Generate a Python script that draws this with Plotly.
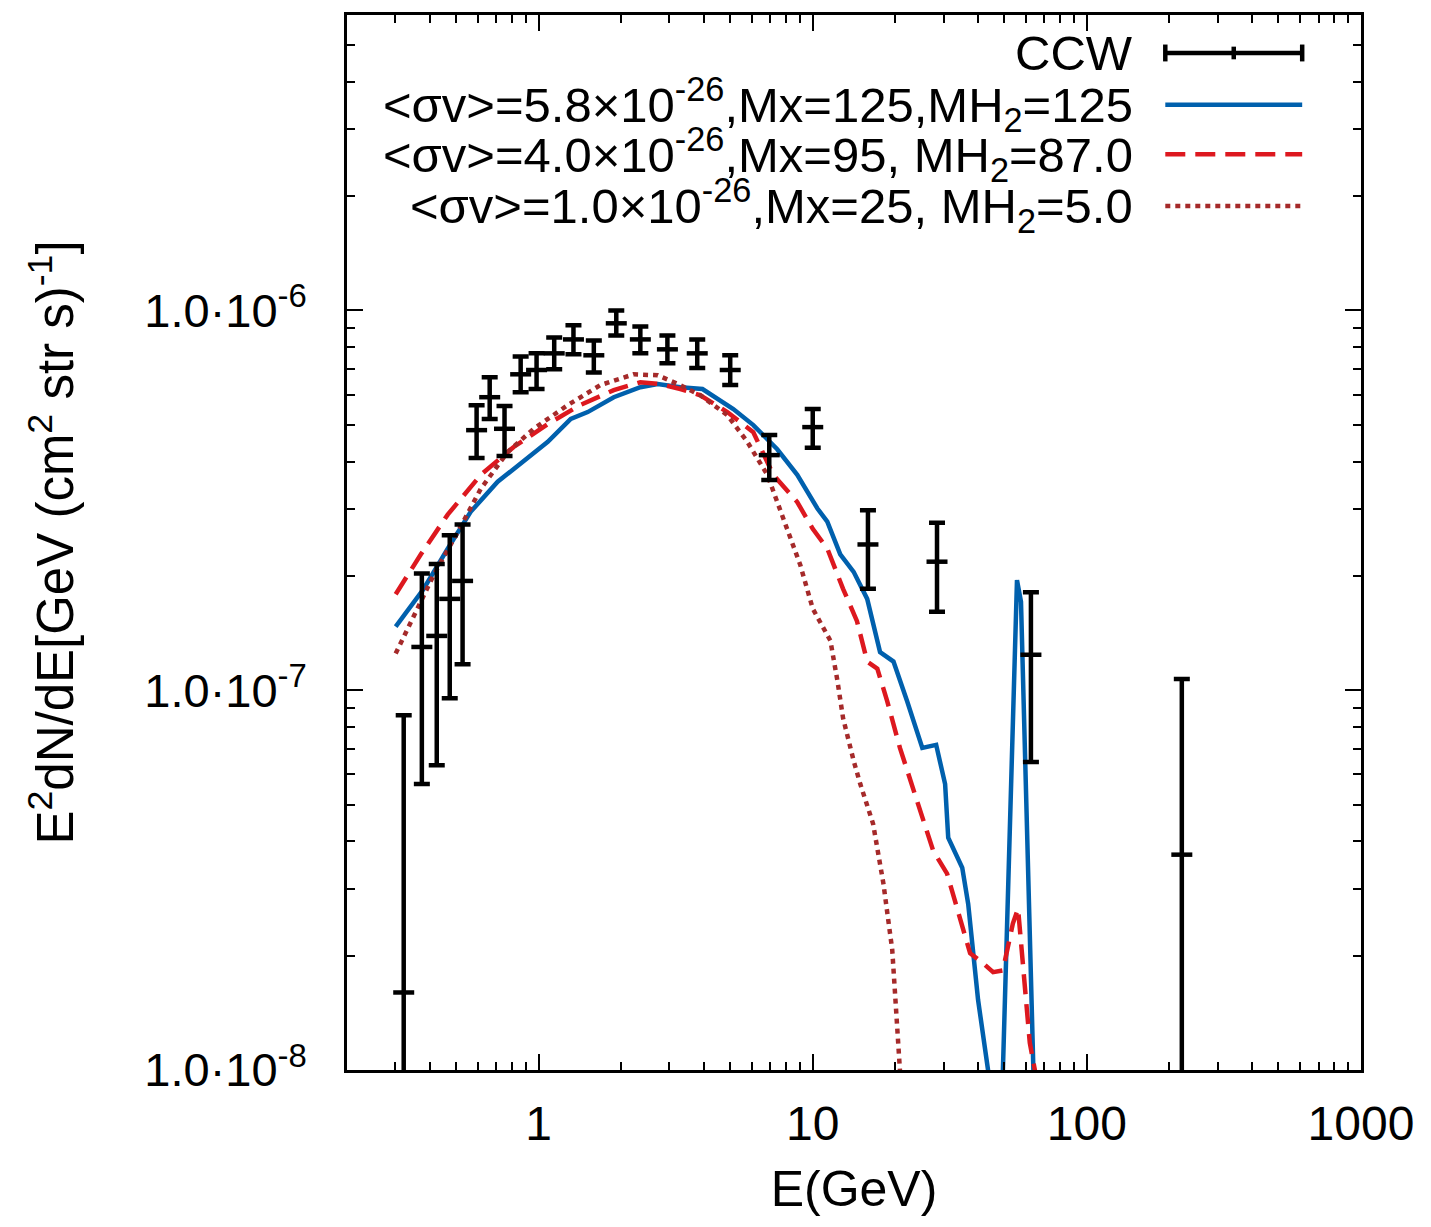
import plotly.graph_objects as go

# CCW data points (E in GeV, E^2 dN/dE) with error ranges
ccw_e = [0.322, 0.375, 0.425, 0.474, 0.528, 0.594, 0.663, 0.751, 0.860, 0.983,
         1.14, 1.34, 1.59, 1.92, 2.35, 2.95, 3.79, 5.0, 6.94, 10.0,
         15.9, 28.4, 62.5, 222.0]
ccw_y = [1.60e-8, 1.30e-7, 1.39e-7, 1.74e-7, 1.94e-7, 4.84e-7, 5.91e-7, 4.88e-7, 6.79e-7, 6.97e-7,
         7.71e-7, 8.39e-7, 7.62e-7, 9.25e-7, 8.39e-7, 7.90e-7, 7.71e-7, 6.97e-7, 4.16e-7, 4.93e-7,
         2.42e-7, 2.18e-7, 1.24e-7, 3.69e-8]
ccw_hi = [8.59e-8, 2.03e-7, 2.15e-7, 2.56e-7, 2.73e-7, 5.63e-7, 6.67e-7, 5.60e-7, 7.57e-7, 7.71e-7,
          8.49e-7, 9.14e-7, 8.34e-7, 1.00e-6, 9.08e-7, 8.59e-7, 8.39e-7, 7.62e-7, 4.70e-7, 5.50e-7,
          2.98e-7, 2.76e-7, 1.81e-7, 1.07e-7]
ccw_lo = [1e-10, 5.66e-8, 6.35e-8, 9.53e-8, 1.17e-7, 4.09e-7, 5.18e-7, 4.14e-7, 6.09e-7, 6.21e-7,
          7.00e-7, 7.67e-7, 6.87e-7, 8.59e-7, 7.71e-7, 7.26e-7, 7.05e-7, 6.36e-7, 3.58e-7, 4.35e-7,
          1.85e-7, 1.61e-7, 6.47e-8, 1e-10]

# Mx=125, MH2=125 (blue solid)
m125_e = [0.301, 0.381, 0.466, 0.565, 0.709, 0.860, 1.08, 1.31, 1.51, 1.88,
          2.35, 2.72, 3.29, 3.96, 4.49, 5.13, 6.07, 7.42, 8.78, 10.4,
          11.3, 12.6, 14.1, 15.8, 17.6, 19.7, 22.1, 25.1, 28.2, 30.4,
          31.2, 35.1, 36.9, 40.1, 43.6, 46.5, 49.4, 55.6, 57.5, 63.6, 66.0]
m125_y = [1.47e-7, 1.85e-7, 2.36e-7, 2.95e-7, 3.54e-7, 3.95e-7, 4.51e-7, 5.18e-7, 5.40e-7, 5.91e-7,
          6.28e-7, 6.40e-7, 6.28e-7, 6.21e-7, 5.84e-7, 5.50e-7, 4.99e-7, 4.31e-7, 3.69e-7, 3.01e-7,
          2.78e-7, 2.28e-7, 2.05e-7, 1.74e-7, 1.26e-7, 1.19e-7, 9.35e-8, 7.05e-8, 7.18e-8, 5.66e-8,
          4.09e-8, 3.41e-8, 2.74e-8, 1.53e-8, 1.0e-8, 1e-9, 1.0e-8, 1.95e-7, 1.71e-7, 1.0e-8, 4e-9]

# Mx=95, MH2=87 (red dashed)
m95_e = [0.301, 0.372, 0.466, 0.615, 0.811, 1.08, 1.42, 1.88, 2.35, 2.78,
         3.29, 3.89, 4.88, 6.07, 7.18, 8.78, 10.0, 11.3, 12.9, 14.5,
         15.8, 17.2, 18.7, 20.8, 24.0, 27.5, 30.9, 34.5, 37.5, 41.8,
         45.5, 49.4, 53.7, 56.1, 58.5, 61.9, 64.6, 66.0]
m95_y = [1.79e-7, 2.28e-7, 2.90e-7, 3.69e-7, 4.37e-7, 5.02e-7, 5.64e-7, 6.17e-7, 6.47e-7, 6.40e-7,
         6.21e-7, 5.98e-7, 5.40e-7, 4.78e-7, 3.69e-7, 3.13e-7, 2.66e-7, 2.36e-7, 1.85e-7, 1.52e-7,
         1.19e-7, 1.14e-7, 9.35e-8, 7.05e-8, 5.12e-8, 3.78e-8, 3.29e-8, 2.52e-8, 2.03e-8, 1.91e-8,
         1.81e-8, 1.83e-8, 2.43e-8, 2.66e-8, 1.86e-8, 1.18e-8, 1.0e-8, 5e-9]

# Mx=25, MH2=5 (brown dotted)
m25_e = [0.301, 0.351, 0.414, 0.507, 0.615, 0.771, 0.959, 1.28, 1.68, 2.22,
         2.72, 3.29, 3.89, 4.88, 5.77, 6.83, 8.07, 9.0, 10.0, 11.6,
         12.3, 12.9, 14.1, 14.9, 16.6, 18.1, 19.5, 20.3, 20.8, 21.5]
m25_y = [1.25e-7, 1.58e-7, 2.01e-7, 2.61e-7, 3.39e-7, 4.24e-7, 4.88e-7, 5.64e-7, 6.36e-7, 6.79e-7,
         6.75e-7, 6.36e-7, 5.98e-7, 5.30e-7, 4.51e-7, 3.69e-7, 2.66e-7, 2.14e-7, 1.64e-7, 1.35e-7,
         1.06e-7, 8.45e-8, 6.52e-8, 5.67e-8, 4.45e-8, 3.10e-8, 2.07e-8, 1.38e-8, 1.0e-8, 5e-9]

legend_labels = [
    "CCW",
    "&lt;σv&gt;=5.8×10<sup>-26</sup>,Mx=125,MH<sub>2</sub>=125",
    "&lt;σv&gt;=4.0×10<sup>-26</sup>,Mx=95, MH<sub>2</sub>=87.0",
    "&lt;σv&gt;=1.0×10<sup>-26</sup>,Mx=25, MH<sub>2</sub>=5.0",
]

x_major = [1, 10, 100, 1000]
x_minor = [m * 10 ** p for p in range(-1, 3) for m in range(2, 10)]
y_major = [1e-8, 1e-7, 1e-6]
y_ticktext = ["1.0·10<sup>-8</sup>", "1.0·10<sup>-7</sup>", "1.0·10<sup>-6</sup>"]
y_minor = [m * 10.0 ** p for p in range(-8, -5) for m in range(2, 10)]

BLUE = "#0060ad"
RED = "#dd181f"
BROWN = "#a52a2a"
FONT = "Liberation Sans, Arial, sans-serif"
RED_DASH = "20px,10px"
BROWN_DOT = "5px,5px"

fig = go.Figure()

fig.add_trace(go.Scatter(
    x=m125_e, y=m125_y, mode="lines",
    line=dict(color=BLUE, width=4.5), showlegend=False))
fig.add_trace(go.Scatter(
    x=m95_e, y=m95_y, mode="lines",
    line=dict(color=RED, width=4.5, dash=RED_DASH), showlegend=False))
fig.add_trace(go.Scatter(
    x=m25_e, y=m25_y, mode="lines",
    line=dict(color=BROWN, width=4.5, dash=BROWN_DOT), showlegend=False))

fig.add_trace(go.Scatter(
    x=ccw_e, y=ccw_y, mode="markers",
    marker=dict(symbol="line-ew", size=15, line=dict(color="black", width=4.5)),
    error_y=dict(type="data", symmetric=False,
                 array=[h - c for h, c in zip(ccw_hi, ccw_y)],
                 arrayminus=[c - l for l, c in zip(ccw_lo, ccw_y)],
                 color="black", thickness=4.5, width=8),
    showlegend=False))

# hand-drawn legend: text right-aligned, line sample to the right
row_y = [0.964, 0.915, 0.868, 0.819]
x_text = 0.777
x0, x1 = 0.807, 0.942
for lab, ry in zip(legend_labels, row_y):
    fig.add_annotation(x=x_text, y=ry, xref="paper", yref="paper", text=lab,
                       showarrow=False, xanchor="right", yanchor="middle",
                       font=dict(size=49, color="black", family=FONT))

fig.add_shape(type="line", xref="paper", yref="paper", x0=x0, x1=x1, y0=row_y[0], y1=row_y[0],
              line=dict(color="black", width=4.5))
for xc in [x0, x1]:
    fig.add_shape(type="line", xref="paper", yref="paper", x0=xc, x1=xc,
                  y0=row_y[0] - 0.008, y1=row_y[0] + 0.008, line=dict(color="black", width=4.5))
fig.add_shape(type="line", xref="paper", yref="paper", x0=(x0 + x1) / 2, x1=(x0 + x1) / 2,
              y0=row_y[0] - 0.006, y1=row_y[0] + 0.006, line=dict(color="black", width=4.5))
fig.add_shape(type="line", xref="paper", yref="paper", x0=x0, x1=x1, y0=row_y[1], y1=row_y[1],
              line=dict(color=BLUE, width=4.5))
fig.add_shape(type="line", xref="paper", yref="paper", x0=x0, x1=x1, y0=row_y[2], y1=row_y[2],
              line=dict(color=RED, width=4.5, dash=RED_DASH))
fig.add_shape(type="line", xref="paper", yref="paper", x0=x0, x1=x1, y0=row_y[3], y1=row_y[3],
              line=dict(color=BROWN, width=4.5, dash=BROWN_DOT))

# page body has an 8px margin, so the figure is drawn 8px smaller and shifted
fig.update_layout(
    width=1423, height=1219,
    margin=dict(l=339, r=70, t=4, b=157),
    plot_bgcolor="white", paper_bgcolor="white",
    font=dict(family=FONT, size=47, color="black"),
    showlegend=False,
    xaxis=dict(
        type="log", range=[-0.699, 3.0],
        tickmode="array", tickvals=x_major, ticktext=["1", "10", "100", "1000"],
        ticks="inside", ticklen=16, tickwidth=2, tickcolor="black",
        tickfont=dict(size=48),
        minor=dict(tickmode="array", tickvals=x_minor, ticks="inside", ticklen=8,
                   tickwidth=2, tickcolor="black", showgrid=False),
        showline=True, linecolor="black", linewidth=2.5, mirror="ticks",
        showgrid=False, zeroline=False, ticklabelstandoff=10,
        title=dict(text="E(GeV)", font=dict(size=50), standoff=22),
    ),
    yaxis=dict(
        type="log", range=[-8, -5.222],
        tickmode="array", tickvals=y_major, ticktext=y_ticktext,
        ticks="inside", ticklen=16, tickwidth=2, tickcolor="black",
        tickfont=dict(size=47),
        minor=dict(tickmode="array", tickvals=y_minor + [2e-6, 3e-6, 4e-6, 5e-6],
                   ticks="inside", ticklen=8, tickwidth=2, tickcolor="black", showgrid=False),
        showline=True, linecolor="black", linewidth=2.5, mirror="ticks",
        showgrid=False, zeroline=False, ticklabelstandoff=28,
        title=dict(text="E<sup>2</sup>dN/dE[GeV (cm<sup>2</sup> str s)<sup>-1</sup>]",
                   font=dict(size=51), standoff=55),
    ),
)

fig.write_html("out.html")
